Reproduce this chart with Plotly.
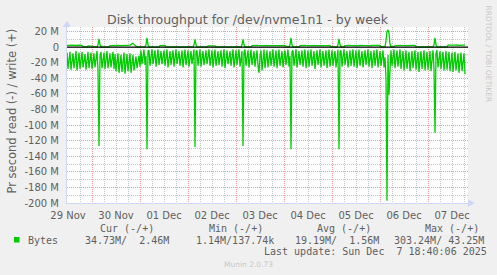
import pandas as pd
import plotly.graph_objects as go

# ---------------- data (MB/s, 30-minute samples starting 29 Nov 11:30) ----------------
start_time = "2025-11-29 11:30"
step = "30min"

read_mb = [
    7, 28, 16, 6, 29, 14, 8, 27, 18, 5, 30, 15, 7, 28, 17, 6, 26, 13, 9, 29, 16, 6, 27, 15,
    7, 28, 14, 8, 26, 16, 5, 29, 127, 12, 6, 27, 15, 7, 28, 16, 5, 27, 14, 8, 26, 17, 6, 28,
    9, 31, 18, 8, 33, 17, 10, 32, 19, 7, 34, 18, 9, 31, 20, 8, 33, 17, 10, 30, 19, 12, 27, 18,
    11, 25, 4, 22, 12, 3, 23, 11, 131, 5, 4, 24, 13, 3, 22, 12, 4, 25, 11, 3, 23, 14, 5, 22,
    13, 4, 24, 12, 3, 26, 14, 5, 23, 11, 4, 25, 13, 3, 22, 12, 5, 24, 14, 4, 26, 11, 3, 23,
    12, 4, 25, 13, 5, 22, 11, 3, 128, 6, 4, 24, 13, 3, 25, 12, 5, 23, 14, 4, 22, 11, 3, 24,
    12, 4, 26, 13, 3, 24, 11, 5, 23, 14, 4, 25, 12, 3, 27, 13, 4, 22, 11, 5, 24, 12, 3, 26,
    13, 4, 23, 11, 3, 25, 12, 5, 127, 7, 3, 24, 13, 4, 26, 12, 3, 23, 14, 5, 25, 11, 4, 24,
    33, 12, 4, 30, 13, 3, 27, 11, 4, 26, 14, 5, 24, 12, 3, 25, 13, 4, 27, 11, 3, 24, 12, 5,
    26, 13, 4, 23, 12, 3, 25, 11, 131, 6, 4, 24, 13, 3, 26, 12, 5, 23, 14, 4, 25, 11, 3, 27,
    12, 4, 25, 13, 3, 24, 11, 5, 28, 12, 4, 23, 14, 3, 26, 12, 5, 24, 11, 4, 27, 13, 3, 25,
    12, 4, 24, 13, 5, 26, 11, 3, 131, 6, 4, 25, 12, 3, 23, 14, 5, 26, 11, 4, 24, 13, 3, 25,
    12, 4, 27, 13, 3, 24, 11, 5, 26, 12, 4, 23, 14, 3, 25, 12, 5, 27, 11, 4, 24, 13, 3, 26,
    12, 5, 24, 11, 4, 26, 13, 40, 197, 10, 61, 30, 4, 24, 12, 3, 27, 13, 4, 25, 12, 3, 28, 14,
    5, 30, 14, 4, 28, 13, 6, 31, 15, 5, 27, 12, 4, 29, 14, 6, 32, 13, 5, 28, 15, 4, 30, 12,
    6, 29, 14, 5, 31, 13, 4, 27, 110, 8, 4, 26, 13, 5, 28, 14, 6, 30, 12, 5, 29, 15, 6, 31,
    14, 7, 32, 15, 6, 30, 13, 8, 33, 16, 7, 31, 15, 8, 34.73,
]

write_mb = [
    2.3, 2.1, 2.4, 2.2, 2.5, 2.3, 2.0, 2.4, 2.2, 2.3, 2.1, 2.5, 2.2, 2.4, 2.3, 2.1, 0.3, 0.2, 0.4, 0.3, 0.2, 1.5, 1.4, 1.6,
    1.5, 1.3, 0.4, 0.3, 0.2, 0.4, 0.3, 3.0, 10.5, 3.0, 0.4, 0.3, 0.2, 0.4, 0.3, 0.2, 0.4, 0.3, 0.2, 2.0, 2.1, 1.9, 2.2, 2.0,
    2.1, 1.9, 2.0, 2.2, 2.1, 1.8, 2.0, 2.3, 2.1, 1.9, 2.0, 2.2, 2.1, 2.0, 1.9, 2.5, 3.5, 4.5, 4.8, 3.5, 2.5, 0.3, 0.2, 0.4,
    0.3, 0.2, 0.4, 0.3, 0.2, 0.3, 0.4, 3.0, 12.0, 3.0, 0.4, 0.3, 0.2, 0.4, 0.3, 0.2, 0.4, 0.3, 0.2, 0.4, 0.3, 2.0, 2.2, 1.9,
    2.1, 2.0, 2.3, 0.4, 0.3, 0.2, 0.4, 0.3, 0.2, 0.4, 0.3, 0.2, 0.4, 0.3, 0.2, 0.4, 0.3, 0.2, 0.4, 0.3, 0.2, 0.4, 0.3, 0.2,
    0.4, 0.3, 0.2, 0.4, 0.3, 0.2, 0.4, 3.0, 10.0, 3.0, 0.4, 0.3, 0.2, 0.4, 0.3, 0.2, 0.4, 0.3, 0.2, 0.4, 0.3, 1.5, 1.4, 1.6,
    1.5, 1.3, 1.6, 1.4, 1.5, 0.4, 0.3, 0.2, 0.4, 0.3, 0.2, 0.4, 0.3, 0.2, 0.4, 0.3, 0.2, 0.4, 0.3, 0.2, 0.4, 0.3, 0.2, 0.4,
    0.3, 0.2, 0.4, 0.3, 0.2, 0.4, 0.3, 3.0, 10.0, 3.0, 0.4, 0.3, 0.2, 0.4, 0.3, 0.2, 0.4, 2.0, 2.2, 1.9, 2.1, 2.0, 2.3, 2.1,
    1.9, 2.0, 2.2, 2.1, 1.8, 2.0, 2.3, 2.1, 1.9, 2.0, 2.2, 2.1, 2.0, 1.9, 2.1, 2.3, 2.0, 1.9, 2.2, 2.1, 2.0, 1.8, 2.1, 2.2,
    2.0, 2.1, 1.9, 0.4, 0.3, 0.2, 0.4, 3.0, 12.0, 3.0, 0.4, 0.3, 0.2, 0.4, 0.3, 0.2, 0.4, 2.0, 2.2, 1.9, 2.1, 2.0, 2.3, 2.1,
    1.9, 2.0, 2.2, 2.1, 1.8, 2.0, 2.3, 2.1, 1.9, 2.0, 2.2, 2.1, 2.0, 1.9, 2.1, 2.3, 2.0, 1.9, 2.2, 2.1, 2.0, 1.8, 2.1, 2.2,
    0.4, 0.3, 0.2, 0.4, 0.3, 0.2, 0.4, 3.0, 10.5, 3.0, 0.4, 0.3, 0.2, 0.4, 2.0, 2.2, 1.9, 2.1, 2.0, 2.3, 2.1, 1.9, 2.0, 2.2,
    2.1, 2.0, 1.9, 2.1, 2.3, 2.0, 1.9, 2.2, 2.1, 2.0, 1.8, 2.1, 2.2, 2.0, 2.1, 1.9, 2.0, 2.2, 2.1, 1.8, 2.0, 2.3, 2.1, 1.9,
    2.0, 2.2, 0.4, 0.3, 0.2, 0.4, 0.3, 8.0, 20.0, 22.0, 18.0, 4.0, 0.4, 0.3, 0.2, 0.4, 2.0, 2.2, 1.9, 2.1, 2.0, 2.3, 2.1, 1.9,
    2.0, 2.2, 2.1, 2.0, 1.9, 2.1, 2.3, 2.0, 1.9, 2.2, 2.1, 2.0, 2.1, 0.4, 0.3, 0.2, 0.4, 0.3, 0.2, 0.4, 0.3, 0.2, 0.4, 0.3,
    0.2, 0.4, 0.3, 0.2, 0.4, 0.3, 0.2, 3.0, 12.0, 3.0, 0.4, 0.3, 0.2, 0.4, 0.3, 0.2, 0.4, 0.3, 0.2, 0.4, 0.3, 2.5, 2.4, 2.6,
    2.5, 2.3, 2.6, 2.4, 2.5, 2.7, 2.4, 2.5, 2.6, 2.3, 2.5, 2.4, 2.6, 2.5, 2.46,
]

y_tick_values = [20, 0, -20, -40, -60, -80, -100, -120, -140, -160, -180, -200]
y_tick_labels = ["20 M", "0", "-20 M", "-40 M", "-60 M", "-80 M", "-100 M", "-120 M",
                 "-140 M", "-160 M", "-180 M", "-200 M"]
day_label_dates = ["2025-11-29", "2025-11-30", "2025-12-01", "2025-12-02", "2025-12-03",
                   "2025-12-04", "2025-12-05", "2025-12-06", "2025-12-07"]
day_labels = ["29 Nov", "30 Nov", "01 Dec", "02 Dec", "03 Dec", "04 Dec", "05 Dec", "06 Dec", "07 Dec"]

legend_headers = ["Cur (-/+)", "Min (-/+)", "Avg (-/+)", "Max (-/+)"]
legend_values = ["34.73M/  2.46M", "1.14M/137.74k", "19.19M/  1.56M", "303.24M/ 43.25M"]
series_name = "Bytes"
last_update = "Last update: Sun Dec  7 18:40:06 2025"
title_text = "Disk throughput for /dev/nvme1n1 - by week"
y_title = "Pr second read (-) / write (+)"

x_range = ["2025-11-29 11:30", "2025-12-07 20:00"]
y_range = [-200, 25.8]

# ---------------- figure ----------------
n = min(len(read_mb), len(write_mb))
times = pd.date_range(start_time, periods=n, freq=step)

GREEN = "#00CC00"
FONT_COL = "#606060"
AXIS_COL = "#CFD6F8"
MGRID = "#EE9A9A"
GRID = "#C4C4C4"
DASH = "1px,1px"

W_IMG, H_IMG = 497, 275
L, T, PW, PH = 67, 27, 401, 176


def px(x):
    return (x - L) / PW


def py(y):
    return (T + PH - y) / PH


def mono(s):
    return s.replace(" ", "\u00a0")


fig = go.Figure()
fig.add_trace(go.Scatter(x=times, y=[-v for v in read_mb[:n]], mode="lines",
                         line=dict(color=GREEN, width=1.3), hoverinfo="skip", showlegend=False))
fig.add_trace(go.Scatter(x=times, y=write_mb[:n], mode="lines",
                         line=dict(color=GREEN, width=1.3), hoverinfo="skip", showlegend=False))
# invisible trace on the overlay axis (for midnight grid lines)
fig.add_trace(go.Scatter(x=[times[0]], y=[0], xaxis="x2", mode="markers",
                         marker=dict(opacity=0), hoverinfo="skip", showlegend=False))

noon_vals = [pd.Timestamp(d) + pd.Timedelta(hours=12) for d in day_label_dates]

fig.update_layout(
    width=W_IMG, height=H_IMG,
    margin=dict(l=L, r=W_IMG - L - PW, t=T, b=H_IMG - T - PH, pad=0),
    paper_bgcolor="#F0F0F0", plot_bgcolor="#FFFFFF",
    font=dict(family="DejaVu Sans", size=10, color=FONT_COL),
    showlegend=False,
    xaxis=dict(
        type="date", range=x_range, tickmode="array", tickvals=noon_vals, ticktext=day_labels,
        showgrid=True, gridcolor=GRID, griddash=DASH, gridwidth=1,
        minor=dict(tickmode="linear", tick0="2025-11-29 00:00", dtick=6 * 3600 * 1000,
                   showgrid=True, gridcolor=GRID, griddash=DASH, gridwidth=1, ticks=""),
        showline=True, linecolor=AXIS_COL, linewidth=1, mirror=False,
        ticks="", ticklabelstandoff=3, zeroline=False,
        tickfont=dict(size=10, color=FONT_COL),
    ),
    xaxis2=dict(
        type="date", range=x_range, overlaying="x", tickmode="linear",
        tick0="2025-11-29 00:00", dtick=24 * 3600 * 1000,
        showgrid=True, gridcolor=MGRID, griddash=DASH, gridwidth=1,
        showticklabels=False, ticks="", showline=False, zeroline=False,
    ),
    yaxis=dict(
        range=y_range, tickmode="array", tickvals=y_tick_values, ticktext=y_tick_labels,
        showgrid=True, gridcolor=MGRID, griddash=DASH, gridwidth=1,
        minor=dict(tickmode="linear", tick0=0, dtick=10, showgrid=True, gridcolor=GRID,
                   griddash=DASH, gridwidth=1, ticks=""),
        showline=True, linecolor=AXIS_COL, linewidth=1,
        ticks="", ticklabelstandoff=5, zeroline=False,
        tickfont=dict(size=10, color=FONT_COL),
    ),
)

shapes = [
    # zero line (on top)
    dict(type="line", xref="paper", yref="y", x0=0, x1=1, y0=0, y1=0,
         line=dict(color="#000000", width=1.2), layer="above"),
    # y-axis arrow
    dict(type="path", xref="paper", yref="paper",
         path=f"M {px(63)} {py(27)} L {px(71)} {py(27)} L {px(67)} {py(20.5)} Z",
         fillcolor=AXIS_COL, line=dict(width=0), layer="above"),
    # x-axis arrow
    dict(type="path", xref="paper", yref="paper",
         path=f"M {px(468)} {py(199)} L {px(468)} {py(207)} L {px(474.5)} {py(203)} Z",
         fillcolor=AXIS_COL, line=dict(width=0), layer="above"),
    # legend colour box
    dict(type="rect", xref="paper", yref="paper", x0=px(14), x1=px(19.5), y0=py(242.5), y1=py(237),
         fillcolor=GREEN, line=dict(width=0)),
]
fig.update_layout(shapes=shapes)

MONO = "DejaVu Sans Mono"
ann = [
    dict(text=title_text, x=px(248), y=py(19.5), xanchor="center", yanchor="middle",
         font=dict(family="DejaVu Sans", size=12.5, color=FONT_COL)),
    dict(text=y_title, x=px(11), y=py(111.5), xanchor="center", yanchor="middle", textangle=-90,
         font=dict(family="DejaVu Sans", size=11.5, color=FONT_COL)),
    dict(text="RRDTOOL / TOBI OETIKER", x=px(488), y=py(53.5), xanchor="center", yanchor="middle",
         textangle=90, font=dict(family="DejaVu Sans", size=7.5, color="#C8C8C8")),
    dict(text="Munin 2.0.73", x=px(248), y=py(264), xanchor="center", yanchor="middle",
         font=dict(family="DejaVu Sans", size=7.5, color="#C8C8C8")),
    dict(text=mono(series_name), x=px(26), y=py(240), xanchor="left", yanchor="middle",
         font=dict(family=MONO, size=10, color=FONT_COL)),
    dict(text=mono(last_update), x=px(262), y=py(251.5), xanchor="left", yanchor="middle",
         font=dict(family=MONO, size=10, color=FONT_COL)),
]
header_x = [98, 207, 315, 423]
value_x = [83, 194, 293, 392]
for hx, h in zip(header_x, legend_headers):
    ann.append(dict(text=mono(h), x=px(hx), y=py(228), xanchor="left", yanchor="middle",
                    font=dict(family=MONO, size=10, color=FONT_COL)))
for vx, v in zip(value_x, legend_values):
    ann.append(dict(text=mono(v), x=px(vx), y=py(240), xanchor="left", yanchor="middle",
                    font=dict(family=MONO, size=10, color=FONT_COL)))
for a in ann:
    a.update(xref="paper", yref="paper", showarrow=False)
fig.update_layout(annotations=ann)

fig.write_html("out.html")
